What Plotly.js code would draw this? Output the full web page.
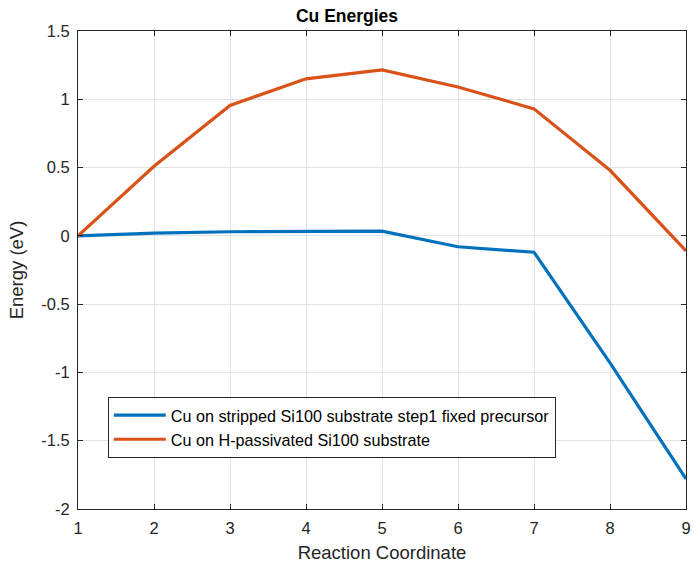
<!DOCTYPE html>
<html><head><meta charset="utf-8">
<script src="https://cdn.plot.ly/plotly-3.0.1.min.js"></script>
<style>html,body{margin:0;padding:0;background:#fff;}#chart{width:694px;height:571px;}</style>
</head><body><div id="chart"></div>
<script>
var reactionCoord = [1, 2, 3, 4, 5, 6, 7, 8, 9];
var strippedEnergy = [0, 0.02, 0.03, 0.032, 0.035, -0.08, -0.12, -0.93, -1.78];
var passivatedEnergy = [0, 0.51, 0.955, 1.15, 1.215, 1.09, 0.93, 0.48, -0.11];
var seriesNames = ['Cu on stripped Si100 substrate step1 fixed precursor', 'Cu on H-passivated Si100 substrate'];
var xTicks = [1, 2, 3, 4, 5, 6, 7, 8, 9];
var yTicks = [-2, -1.5, -1, -0.5, 0, 0.5, 1, 1.5];
var yTickText = ['-2', '-1.5', '-1', '-0.5', '0', '0.5', '1', '1.5'];

var traces = [
  {x: reactionCoord, y: strippedEnergy, name: seriesNames[0], mode: 'lines', line: {color: '#0072BD', width: 3.2}},
  {x: reactionCoord, y: passivatedEnergy, name: seriesNames[1], mode: 'lines', line: {color: '#D95319', width: 3.2}}
];
var axisCommon = {
  showline: true, mirror: 'ticks', linecolor: '#262626', linewidth: 1,
  ticks: 'inside', ticklen: 5, tickcolor: '#262626',
  showgrid: true, gridcolor: '#e3e3e3', gridwidth: 1, zeroline: false,
  ticklabelstandoff: 4,
  tickfont: {family: 'Liberation Sans, Arial, sans-serif', size: 16.5, color: '#262626'}
};
var layout = {
  width: 694, height: 571,
  margin: {l: 78, r: 8, t: 31, b: 62},
  paper_bgcolor: '#fff', plot_bgcolor: '#fff',
  font: {family: 'Liberation Sans, Arial, sans-serif', color: '#262626'},
  title: {text: '<b>Cu Energies</b>', font: {size: 17.5, color: '#000'}, x: 0.5, xanchor: 'center', y: 0.973, yanchor: 'middle'},
  xaxis: Object.assign({}, axisCommon, {range: [1, 9], tickvals: xTicks,
    title: {text: 'Reaction Coordinate', font: {size: 18.5, color: '#262626'}, standoff: 10}}),
  yaxis: Object.assign({}, axisCommon, {range: [-2, 1.5], tickvals: yTicks, ticktext: yTickText,
    title: {text: 'Energy (eV)', font: {size: 18.5, color: '#262626'}, standoff: 12}}),
  showlegend: true,
  legend: {x: 0.049, y: 0.234, xanchor: 'left', yanchor: 'top', bgcolor: '#fff',
    bordercolor: '#262626', borderwidth: 1, font: {size: 16.2, color: '#000'},
    tracegroupgap: 0, itemwidth: 52}
};
Plotly.newPlot('chart', traces, layout, {displayModeBar: false, staticPlot: true});
</script></body></html>
